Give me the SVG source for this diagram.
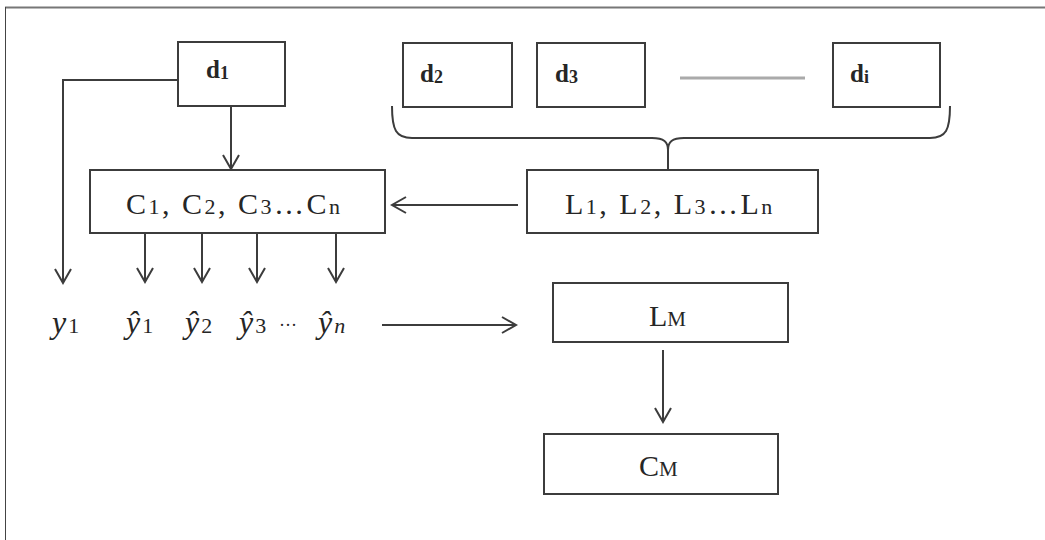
<svg xmlns="http://www.w3.org/2000/svg" width="1045" height="540" viewBox="0 0 1045 540">
<style>
.box{fill:#fff;stroke:#3c3c3c;stroke-width:2}
.ln{fill:none;stroke:#3c3c3c;stroke-width:2}
.t{font-family:"Liberation Serif",serif;fill:#262626}
.d{font-size:25px;font-weight:bold}
.m{font-size:30px;letter-spacing:2.5px}
.s{font-size:22px}
.v{font-size:32px;font-style:italic;letter-spacing:2px}
.vs{font-size:22px;font-style:normal}
</style>
<defs>
<marker id="ah" viewBox="0 0 20 20" refX="18" refY="10" markerWidth="20" markerHeight="20" markerUnits="userSpaceOnUse" orient="auto">
<path d="M4,2 L18,10 L4,18" fill="none" stroke="#3c3c3c" stroke-width="2"/>
</marker>
</defs>
<rect x="0" y="0" width="1045" height="540" fill="#fff"/>
<line x1="5" y1="7.5" x2="1045" y2="7.5" stroke="#777" stroke-width="2"/>
<line x1="5.5" y1="7" x2="5.5" y2="540" stroke="#444" stroke-width="1"/>

<g id="connectors">
<path class="ln" d="M178,80 L63,80 L63,283" marker-end="url(#ah)"/>
<path class="ln" d="M231,107 L231,169" marker-end="url(#ah)"/>
<path class="ln" d="M518,205 L392,205" marker-end="url(#ah)"/>
<path class="ln" d="M145,234 L145,282" marker-end="url(#ah)"/>
<path class="ln" d="M202,234 L202,282" marker-end="url(#ah)"/>
<path class="ln" d="M257,234 L257,282" marker-end="url(#ah)"/>
<path class="ln" d="M336,234 L336,282" marker-end="url(#ah)"/>
<path class="ln" d="M382,325 L516,325" marker-end="url(#ah)"/>
<path class="ln" d="M663,350 L663,422" marker-end="url(#ah)"/>
<path class="ln" d="M392,106 C392,130 396,138 412,138 L652,138 C664,138 668,142 668,150 C668,142 672,138 684,138 L930,138 C946,138 950,130 950,106"/>
<line x1="668" y1="148" x2="668" y2="170" stroke="#3c3c3c" stroke-width="2"/>
<line x1="680" y1="78" x2="805" y2="78" stroke="#aaa" stroke-width="3"/>
</g>

<g id="d1"><rect class="box" x="178" y="42" width="107" height="64"/>
<text class="t d" x="206" y="78">d<tspan font-size="18" dy="1">1</tspan></text></g>
<g id="d2"><rect class="box" x="403" y="43" width="109" height="64"/>
<text class="t d" x="420" y="82">d<tspan font-size="18" dy="1">2</tspan></text></g>
<g id="d3"><rect class="box" x="537" y="43" width="108" height="64"/>
<text class="t d" x="555" y="82">d<tspan font-size="18" dy="1">3</tspan></text></g>
<g id="di"><rect class="box" x="833" y="43" width="107" height="64"/>
<text class="t d" x="850" y="82">d<tspan font-size="18" dy="1">i</tspan></text></g>

<g id="C"><rect class="box" x="90" y="170" width="295" height="63"/>
<text class="t m" x="126" y="214">C<tspan class="s">1</tspan>, C<tspan class="s">2</tspan>, C<tspan class="s">3</tspan>…C<tspan class="s">n</tspan></text></g>
<g id="L"><rect class="box" x="527" y="170" width="291" height="63"/>
<text class="t m" x="565" y="214">L<tspan class="s">1</tspan>, L<tspan class="s">2</tspan>, L<tspan class="s">3</tspan>…L<tspan class="s">n</tspan></text></g>

<g id="outputs">
<text class="t v" x="52" y="333">y<tspan class="vs">1</tspan></text>
<text class="t v" x="126" y="333">ŷ<tspan class="vs">1</tspan></text>
<text class="t v" x="185" y="333">ŷ<tspan class="vs">2</tspan></text>
<text class="t v" x="239" y="333">ŷ<tspan class="vs">3</tspan></text>
<text class="t" font-size="18" x="279" y="331">···</text>
<text class="t v" x="318" y="333">ŷ<tspan font-size="22">n</tspan></text>
</g>

<g id="LM"><rect class="box" x="553" y="283" width="235" height="59"/>
<text class="t" font-size="30" x="649" y="326">L<tspan font-size="21">M</tspan></text></g>
<g id="CM"><rect class="box" x="544" y="434" width="234" height="60"/>
<text class="t" font-size="30" x="639" y="476">C<tspan font-size="21">M</tspan></text></g>
</svg>
